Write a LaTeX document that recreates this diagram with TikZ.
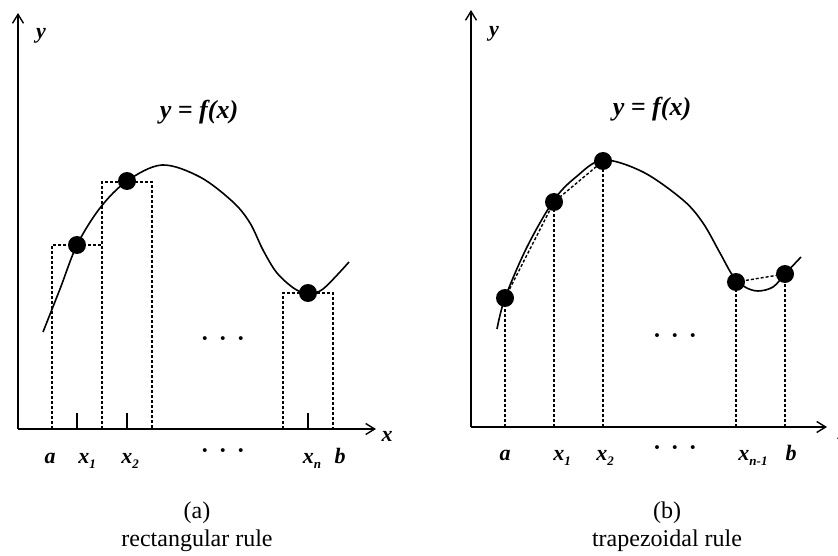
\documentclass[tikz,border=0pt]{standalone}
\usepackage{fontspec}
\setmainfont{Liberation Serif}
\usetikzlibrary{arrows.meta}
\newcommand{\sublab}[2]{#1\raisebox{-5pt}{\fontsize{13}{13}\selectfont #2}}
\begin{document}
\begin{tikzpicture}[x=1pt,y=-1pt,
  axisline/.style={line width=1.4pt,-{Straight Barb[length=9pt,width=11pt,line width=1.4pt]}},
  curveline/.style={line width=1.6pt},
  guide/.style={line width=1.4pt,dash pattern=on 3pt off 2pt},
  tickline/.style={line width=1.2pt},
  pt/.style={circle,fill=black,inner sep=0pt,minimum size=18pt},
  lab/.style={font=\fontsize{22}{26}\selectfont\bfseries\itshape,anchor=base,inner sep=0pt},
  eq/.style={font=\fontsize{26}{30}\selectfont\bfseries\itshape,anchor=base,inner sep=0pt},
  captext/.style={font=\fontsize{24}{28}\selectfont,anchor=base,inner sep=0pt},
  ell/.style={font=\fontsize{24}{28}\selectfont\bfseries,anchor=center,inner sep=0pt}]
\useasboundingbox (0,0) rectangle (838,556);

% ---------------- panel (a) ----------------
\coordinate (oa) at (18,429);
\coordinate (ya) at (18,13);
\coordinate (xa) at (376,429);
\draw[axisline] (oa) -- (ya);
\draw[axisline] (oa) -- (xa);
\node[lab] (yla) at (41,39) {y};
\node[lab] (xla) at (387,441) {x};
\node[eq] (eqa) at (199,119) {y = f(x)};

% rectangles
\coordinate (r1a) at (52,429);  \coordinate (r1b) at (52,245);
\coordinate (r1c) at (102,245); \coordinate (r1d) at (102,429);
\coordinate (r2b) at (102,182); \coordinate (r2c) at (152,182);
\coordinate (r2d) at (152,429);
\coordinate (rna) at (283,429); \coordinate (rnb) at (283,293);
\coordinate (rnc) at (333,293); \coordinate (rnd) at (333,429);
\draw[guide] (r1a) -- (r1b) -- (r1c) -- (r1d);
\draw[guide] (r1d) -- (r2b) -- (r2c) -- (r2d);
\draw[guide] (rna) -- (rnb) -- (rnc) -- (rnd);

% ticks
\coordinate (t1a) at (77,429);  \coordinate (t1b) at (77,413);
\coordinate (t2a) at (127,429); \coordinate (t2b) at (127,413);
\coordinate (tna) at (308,429); \coordinate (tnb) at (308,413);
\draw[tickline] (t1a) -- (t1b);
\draw[tickline] (t2a) -- (t2b);
\draw[tickline] (tna) -- (tnb);

% curve
\draw[curveline] plot[smooth,tension=0.55] coordinates {
  (43,332) (60,289) (77,245) (100,208) (127,181) (162,165) (200,177)
  (233,202) (250,223) (263,250) (277,273) (295,289) (308,293) (323,289) (349,262)};

\node[pt] (p1a) at (77,245) {};
\node[pt] (p2a) at (127,181) {};
\node[pt] (pna) at (308,293) {};

\node[ell] (dma) at (223,342) {·\hspace{10pt}·\hspace{10pt}·};

% axis labels
\node[lab] (la)  at (50,463) {a};
\node[lab] (lx1) at (87,463) {\sublab{x}{1}};
\node[lab] (lx2) at (130,463) {\sublab{x}{2}};
\node[ell] (dba) at (223,454) {·\hspace{10pt}·\hspace{10pt}·};
\node[lab] (lxn) at (312,463) {\sublab{x}{n}};
\node[lab] (lb)  at (340,463) {b};

\node[captext] (ca1) at (197,518) {(a)};
\node[captext] (ca2) at (197,546) {rectangular rule};

% ---------------- panel (b) ----------------
\coordinate (ob) at (471,427);
\coordinate (yb) at (471,10);
\coordinate (xb) at (827,427);
\draw[axisline] (ob) -- (yb);
\draw[axisline] (ob) -- (xb);
\node[lab] (ylb) at (494,37) {y};
\node[lab] (xlb) at (843,439) {x};
\node[eq] (eqb) at (652,116) {y = f(x)};

\coordinate (va) at (505,427);
\coordinate (v1) at (554,427);
\coordinate (v2) at (603,427);
\coordinate (vn) at (736,427);
\coordinate (vb) at (785,427);

\coordinate (qa) at (505,298);
\coordinate (q1) at (554,202);
\coordinate (q2) at (603,161);
\coordinate (qn) at (736,282);
\coordinate (qb) at (785,274);

\draw[guide] (va) -- (qa);
\draw[guide] (v1) -- (q1);
\draw[guide] (v2) -- (q2);
\draw[guide] (vn) -- (qn);
\draw[guide] (vb) -- (qb);
\draw[guide] (qa) -- (q1) -- (q2);
\draw[guide] (qn) -- (qb);

\draw[curveline] plot[smooth,tension=0.55] coordinates {
  (497,329) (505,298) (527,247) (554,200) (576,177) (603,160) (643,172)
  (683,200) (703,223) (720,253) (733,276) (745,287) (758,291) (773,287) (785,274) (801,257)};

\node[pt] (qa2) at (qa) {};
\node[pt] (q12) at (q1) {};
\node[pt] (q22) at (q2) {};
\node[pt] (qn2) at (qn) {};
\node[pt] (qb2) at (qb) {};

\node[ell] (dmb) at (675,339) {·\hspace{10pt}·\hspace{10pt}·};

\node[lab] (lba)  at (505,460) {a};
\node[lab] (lbx1) at (562,460) {\sublab{x}{1}};
\node[lab] (lbx2) at (605,460) {\sublab{x}{2}};
\node[ell] (dbb)  at (675,451) {·\hspace{10pt}·\hspace{10pt}·};
\node[lab] (lbxn) at (753,460) {\sublab{x}{n-1}};
\node[lab] (lbb)  at (791,460) {b};

\node[captext] (cb1) at (667,518) {(b)};
\node[captext] (cb2) at (667,546) {trapezoidal rule};
\end{tikzpicture}
\end{document}
